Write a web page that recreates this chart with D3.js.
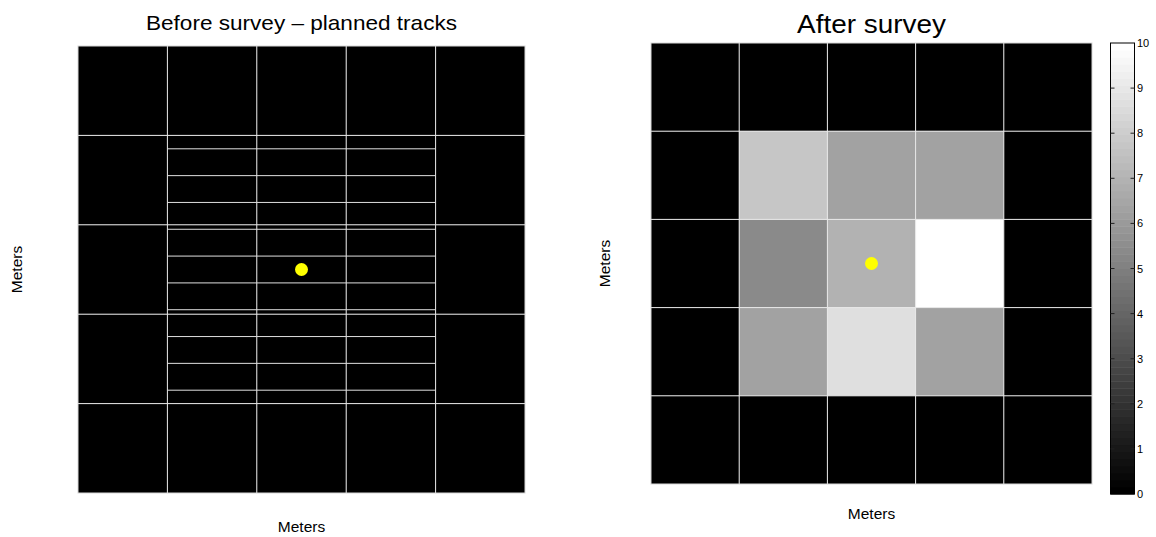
<!DOCTYPE html>
<html>
<head>
<meta charset="utf-8">
<script src="https://cdn.jsdelivr.net/npm/d3@7"></script>
<style>
  html, body { margin: 0; padding: 0; background: #fff; }
  svg { display: block; font-family: "Liberation Sans", Arial, Helvetica, sans-serif; }
</style>
</head>
<body>
<svg id="chart" width="1156" height="537"></svg>
<script>
// Survey grid: 5 x 5 cells of 5 m over a 25 m square
const cellEdges = [0, 5, 10, 15, 20, 25];
const gridSize = 25;

// Grid values before the survey (nothing measured yet), rows top to bottom
const beforeValues = [
  [0, 0, 0, 0, 0],
  [0, 0, 0, 0, 0],
  [0, 0, 0, 0, 0],
  [0, 0, 0, 0, 0],
  [0, 0, 0, 0, 0]
];

// Grid values after the survey, rows top to bottom
const afterValues = [
  [0, 0,   0,   0,   0],
  [0, 7.8, 6.3, 6.3, 0],
  [0, 5.4, 7.0, 10,  0],
  [0, 6.3, 8.6, 6.3, 0],
  [0, 0,   0,   0,   0]
];

// Planned survey tracks: y position (m) and x extent (m)
const trackY = [5.75, 7.25, 8.75, 10.25, 11.75, 13.25, 14.75, 16.25, 17.75, 19.25];
const trackXStart = [5, 5, 5, 5, 5, 5, 5, 5, 5, 5];
const trackXEnd = [20, 20, 20, 20, 20, 20, 20, 20, 20, 20];

// Target location (m)
const targetX = [12.5];
const targetY = [12.5];

// Colour bar
const colorbarTicks = [0, 1, 2, 3, 4, 5, 6, 7, 8, 9, 10];
const colorDomain = [0, 10];
const nLevels = 64;

const titles = ["Before survey \u2013 planned tracks", "After survey"];
const axisLabel = "Meters";

const svg = d3.select("#chart");

// 64-level gray colormap
function grayColor(v) {
  const t = (v - colorDomain[0]) / (colorDomain[1] - colorDomain[0]);
  const idx = Math.max(0, Math.min(nLevels - 1, Math.floor(t * nLevels)));
  const g = Math.round(idx / (nLevels - 1) * 255);
  return d3.rgb(g, g, g).toString();
}

function drawPanel(cfg) {
  const x = d3.scaleLinear().domain([0, gridSize]).range([cfg.left, cfg.right]);
  const y = d3.scaleLinear().domain([0, gridSize]).range([cfg.top, cfg.bottom]);
  const g = svg.append("g");

  // cells
  const cells = [];
  cfg.values.forEach((row, r) => row.forEach((v, c) => cells.push({ r, c, v })));
  g.selectAll("rect.cell").data(cells).join("rect")
    .attr("class", "cell")
    .attr("x", d => x(cellEdges[d.c]))
    .attr("y", d => y(cellEdges[d.r]))
    .attr("width", d => x(cellEdges[d.c + 1]) - x(cellEdges[d.c]))
    .attr("height", d => y(cellEdges[d.r + 1]) - y(cellEdges[d.r]))
    .attr("fill", d => grayColor(d.v));

  // inner cell boundaries
  const inner = cellEdges.slice(1, -1);
  g.selectAll("line.vgrid").data(inner).join("line")
    .attr("x1", d => x(d)).attr("x2", d => x(d))
    .attr("y1", y(0)).attr("y2", y(gridSize))
    .attr("stroke", "#e8e8e8").attr("stroke-width", 1);
  g.selectAll("line.hgrid").data(inner).join("line")
    .attr("y1", d => y(d)).attr("y2", d => y(d))
    .attr("x1", x(0)).attr("x2", x(gridSize))
    .attr("stroke", "#e8e8e8").attr("stroke-width", 1);

  // planned tracks
  if (cfg.tracks) {
    g.selectAll("line.track").data(trackY).join("line")
      .attr("x1", (d, i) => x(trackXStart[i]))
      .attr("x2", (d, i) => x(trackXEnd[i]))
      .attr("y1", d => y(d)).attr("y2", d => y(d))
      .attr("stroke", "#e0e0e0").attr("stroke-width", 1);
  }

  // outer frame
  g.append("rect")
    .attr("x", x(0)).attr("y", y(0))
    .attr("width", x(gridSize) - x(0)).attr("height", y(gridSize) - y(0))
    .attr("fill", "none").attr("stroke", "#d8d8d8").attr("stroke-width", 1);

  // target
  g.selectAll("circle.target").data(targetX).join("circle")
    .attr("cx", d => x(d))
    .attr("cy", (d, i) => y(targetY[i]))
    .attr("r", 6.5)
    .attr("fill", "#ffff00");

  // title
  svg.append("text")
    .attr("x", (cfg.left + cfg.right) / 2)
    .attr("y", cfg.titleY)
    .attr("text-anchor", "middle")
    .attr("font-size", cfg.titleSize)
    .attr("textLength", cfg.titleLength)
    .attr("lengthAdjust", "spacingAndGlyphs")
    .attr("fill", "#000")
    .text(cfg.title);

  // axis labels
  svg.append("text")
    .attr("x", (cfg.left + cfg.right) / 2)
    .attr("y", cfg.xLabelY)
    .attr("text-anchor", "middle")
    .attr("font-size", 15.5)
    .attr("fill", "#000")
    .text(axisLabel);
  svg.append("text")
    .attr("transform", `translate(${cfg.yLabelX},${(cfg.top + cfg.bottom) / 2}) rotate(-90)`)
    .attr("text-anchor", "middle")
    .attr("font-size", 15.5)
    .attr("fill", "#000")
    .text(axisLabel);
}

drawPanel({
  left: 78, right: 525, top: 46, bottom: 493,
  values: beforeValues, tracks: true,
  title: titles[0], titleY: 30, titleSize: 21, titleLength: 311,
  xLabelY: 532, yLabelX: 22
});

drawPanel({
  left: 651, right: 1092, top: 43, bottom: 484,
  values: afterValues, tracks: false,
  title: titles[1], titleY: 32.5, titleSize: 25.5, titleLength: 149,
  xLabelY: 519, yLabelX: 610
});

// colour bar
const cbLeft = 1110.5, cbRight = 1134.5, cbTop = 43, cbBottom = 494;
const cbScale = d3.scaleLinear().domain(colorDomain).range([cbBottom, cbTop]);
const levels = d3.range(nLevels);
const levelValue = k => colorDomain[0] + k / nLevels * (colorDomain[1] - colorDomain[0]);
const cb = svg.append("g");
cb.selectAll("rect.level").data(levels).join("rect")
  .attr("x", cbLeft)
  .attr("width", cbRight - cbLeft)
  .attr("y", d => cbScale(levelValue(d + 1)))
  .attr("height", d => cbScale(levelValue(d)) - cbScale(levelValue(d + 1)) + 0.5)
  .attr("fill", d => grayColor(levelValue(d + 0.5)));

cb.append("rect")
  .attr("x", cbLeft).attr("y", cbTop)
  .attr("width", cbRight - cbLeft).attr("height", cbBottom - cbTop)
  .attr("fill", "none").attr("stroke", "#000").attr("stroke-width", 1);

// inner tick marks on both edges
const innerTicks = colorbarTicks.slice(1, -1);
cb.selectAll("line.tl").data(innerTicks).join("line")
  .attr("x1", cbLeft).attr("x2", cbLeft + 4)
  .attr("y1", d => cbScale(d)).attr("y2", d => cbScale(d))
  .attr("stroke", "#222").attr("stroke-width", 1);
cb.selectAll("line.tr").data(innerTicks).join("line")
  .attr("x1", cbRight - 4).attr("x2", cbRight)
  .attr("y1", d => cbScale(d)).attr("y2", d => cbScale(d))
  .attr("stroke", "#222").attr("stroke-width", 1);

// tick labels
const cbAxis = cb.append("g")
  .attr("transform", `translate(${cbRight},0)`)
  .style("color", "#000")
  .call(d3.axisRight(cbScale).tickValues(colorbarTicks).tickSize(0).tickPadding(2.5).tickFormat(d3.format("d")));
cbAxis.select(".domain").remove();
cbAxis.selectAll("text")
  .attr("font-size", 11)
  .attr("font-family", "\"Liberation Sans\", Arial, sans-serif")
  .style("fill", "#000");
</script>
</body>
</html>
